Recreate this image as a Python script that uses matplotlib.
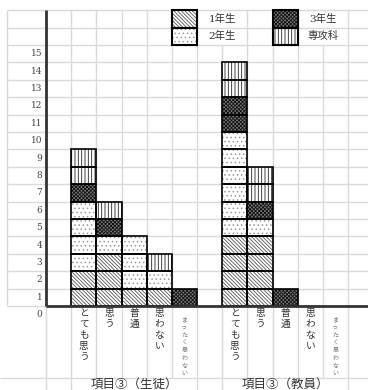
import matplotlib
matplotlib.use('Agg')
from matplotlib import pyplot as plt
import numpy as np

plt.rcParams['font.family'] = ['DejaVu Serif', 'Noto Sans CJK JP']
plt.rcParams['hatch.linewidth'] = 0.6

# data read from the sheet
categories = ['とても思う', '思う', '普通', '思わない', 'まったく思わない']
groups = ['項目③（生徒）', '項目③（教員）']
series = ['1年生', '2年生', '3年生', '専攻科']

student_1 = [2, 3, 1, 1, 0]
student_2 = [4, 1, 3, 1, 0]
student_3 = [1, 1, 0, 0, 1]
student_s = [2, 1, 0, 1, 0]

teacher_1 = [4, 4, 0, 0, 0]
teacher_2 = [6, 1, 0, 0, 0]
teacher_3 = [2, 1, 1, 0, 0]
teacher_s = [2, 2, 0, 0, 0]

y_labels = list(range(0, 16))

# look of each series (hatch, hatch colour, face)
styles = {
    '1年生': ('\\' * 9, '#555555', 'white'),
    '2年生': ('....', '#999999', 'white'),
    '3年生': ('x' * 9, '#111111', '#777777'),
    '専攻科': ('|||||', '#222222', 'white'),
}

grid_c = '#dadada'
ink = '#333333'

fig = plt.figure(figsize=(3.68, 3.90), dpi=100)
ax = fig.add_axes([0, 0, 1, 1])
ax.set_xlim(-1.83, 12.79)
ax.set_ylim(-4.83, 17.59)
ax.axis('off')

# spreadsheet grid
left_edge = -1.55
label_bottom = -4.14
for y in range(0, 18):
    ax.hlines(y, left_edge, 12.79, color=grid_c, lw=1, zorder=0)
ax.hlines(label_bottom, -1.83, 12.79, color=grid_c, lw=1, zorder=0)
ax.vlines(left_edge, 0, 17, color=grid_c, lw=1, zorder=0)
for x in range(0, 13):
    ax.vlines(x, label_bottom, 15, color=grid_c, lw=1, zorder=0)
    if x not in (7, 11):
        ax.vlines(x, 15, 17, color=grid_c, lw=1, zorder=0)
    if x in (0, 1, 6, 7, 12):
        ax.vlines(x, -4.83, label_bottom, color=grid_c, lw=1, zorder=0)

# axis lines
ax.vlines(0, 0, 17, color=ink, lw=2, zorder=5)
ax.hlines(0, 0, 12.79, color=ink, lw=2, zorder=5)

for v in y_labels:
    ax.text(-0.15, v - 0.5, str(v), ha='right', va='center', fontsize=6.5, color='#444444')

group_data = [
    [student_1, student_2, student_3, student_s],
    [teacher_1, teacher_2, teacher_3, teacher_s],
]
group_start = [1, 7]


def draw_cells(xs, bottoms, name, lw=1.2):
    hatch, hcol, face = styles[name]
    ax.bar(xs, np.ones(len(xs)), bottom=bottoms, width=1, align='edge',
           color=face, edgecolor=hcol, hatch=hatch, lw=0, zorder=2)
    ax.bar(xs, np.ones(len(xs)), bottom=bottoms, width=1, align='edge',
           fill=False, edgecolor='black', lw=lw, zorder=3)


for g, vals in enumerate(group_data):
    x0 = np.arange(len(categories)) + group_start[g]
    base = np.zeros(len(categories))
    for name, v in zip(series, vals):
        xs, bs = [], []
        for i, n in enumerate(v):
            for k in range(n):
                xs.append(x0[i])
                bs.append(base[i] + k)
        if xs:
            draw_cells(xs, bs, name)
        base = base + np.array(v)

    # vertical category labels
    for i, c in enumerate(categories):
        if len(c) > 5:
            ax.text(x0[i] + 0.5, -0.55, '\n'.join(c), ha='center', va='top',
                    fontsize=4.4, linespacing=0.95, color='#777777',
                    family='Noto Sans CJK JP')
        else:
            ax.text(x0[i] + 0.5, -0.1, '\n'.join(c), ha='center', va='top',
                    fontsize=7, linespacing=1.12, color=ink,
                    family='Noto Sans CJK JP')
    ax.text(group_start[g] + 2.5, -4.5, groups[g], ha='center', va='center',
            fontsize=9, color=ink, family='Noto Sans CJK JP')

# legend drawn into the sheet cells
legend_cells = {'1年生': (5, 16), '2年生': (5, 15), '3年生': (9, 16), '専攻科': (9, 15)}
for name in series:
    lx, ly = legend_cells[name]
    draw_cells([lx], [ly], name, lw=1.5)
    ax.text(lx + 2, ly + 0.5, name, ha='center', va='center', fontsize=7.5, color=ink)

plt.savefig('out.png', dpi=100)
